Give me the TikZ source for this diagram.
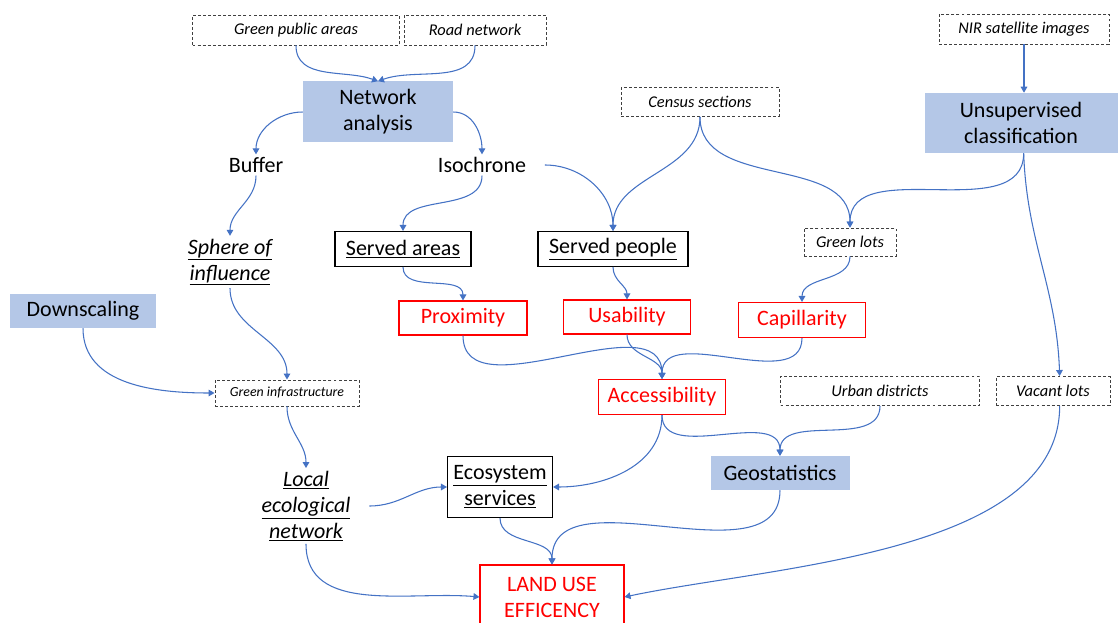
\documentclass[tikz,border=0pt]{standalone}
\usepackage{fontspec}
\setmainfont{Carlito}
\usetikzlibrary{arrows.meta}
\definecolor{linecol}{HTML}{4472C4}
\definecolor{procfill}{HTML}{B4C7E7}
\definecolor{dashcol}{HTML}{404040}
\definecolor{redcol}{HTML}{FF0000}
\tikzset{
  base/.style={inner sep=0pt, align=center, font=\fontsize{16.5}{19.5}\selectfont},
  src/.style={base, draw=dashcol, line width=0.7pt, dash pattern=on 2.2pt off 1.6pt, font=\fontsize{12.3}{14}\selectfont\itshape},
  srcsmall/.style={src, font=\fontsize{10.4}{12}\selectfont\itshape},
  proc/.style={base, fill=procfill},
  outbox/.style={base, draw=black, line width=0.8pt},
  ind/.style={base, draw=redcol, text=redcol, line width=0.8pt},
  plain/.style={base, inner sep=2pt},
  plainit/.style={plain, font=\fontsize{16.5}{19.5}\selectfont\itshape},
  conn/.style={draw=linecol, line width=0.8pt, -{Triangle[width=5pt,length=4.5pt]}},
}
\begin{document}
\begin{tikzpicture}[x=0.75pt,y=-0.75pt]
\useasboundingbox (0,0) rectangle (1118,623);
% nodes
\node[src, minimum width=207*0.75pt, minimum height=30*0.75pt] (gpa) at (296,30) {Green public areas};
\node[src, minimum width=142*0.75pt, minimum height=30*0.75pt] (road) at (475,30) {Road network};
\node[proc, minimum width=150*0.75pt, minimum height=61*0.75pt] (na) at (378,112) {Network\\analysis};
\node[plain] (buf) at (256,165) {Buffer};
\node[plain] (iso) at (482,165) {Isochrone};
\node[src, minimum width=158*0.75pt, minimum height=29*0.75pt] (cen) at (700,102) {Census sections};
\node[src, minimum width=170*0.75pt, minimum height=30*0.75pt] (nir) at (1024,29) {NIR satellite images};
\node[proc, minimum width=193*0.75pt, minimum height=60*0.75pt] (uc) at (1021,123) {Unsupervised\\classification};
\node[plainit] (sph) at (230,262) {\underline{Sphere of}\\\underline{influence}};
\node[outbox, minimum width=136*0.75pt, minimum height=35*0.75pt] (sa) at (403,249) {\underline{Served areas}};
\node[outbox, minimum width=150*0.75pt, minimum height=35*0.75pt] (sp) at (613,249) {\underline{Served people}};
\node[src, minimum width=92*0.75pt, minimum height=28*0.75pt] (gl) at (850,242) {Green lots};
\node[proc, minimum width=146*0.75pt, minimum height=34*0.75pt] (ds) at (83,311) {Downscaling};
\node[ind, minimum width=128*0.75pt, minimum height=34*0.75pt] (prox) at (463,318) {Proximity};
\node[ind, minimum width=127*0.75pt, minimum height=34*0.75pt] (usa) at (627,317) {Usability};
\node[ind, minimum width=127*0.75pt, minimum height=35*0.75pt] (cap) at (802,320) {Capillarity};
\node[srcsmall, minimum width=144*0.75pt, minimum height=26*0.75pt] (gi) at (287,393) {Green infrastructure};
\node[ind, minimum width=127*0.75pt, minimum height=35*0.75pt] (acc) at (662,397) {Accessibility};
\node[src, minimum width=199*0.75pt, minimum height=29*0.75pt] (ud) at (880,391) {Urban districts};
\node[src, minimum width=114*0.75pt, minimum height=29*0.75pt] (vl) at (1053,391) {Vacant lots};
\node[plainit] (len) at (306,506) {\underline{Local}\\\underline{ecological}\\\underline{network}};
\node[outbox, minimum width=105*0.75pt, minimum height=61*0.75pt] (es) at (500,487) {\underline{Ecosystem}\\\underline{services}};
\node[proc, minimum width=139*0.75pt, minimum height=34*0.75pt] (geo) at (780,473) {Geostatistics};
\node[ind, minimum width=144*0.75pt, minimum height=64*0.75pt] (lue) at (552,597) {LAND USE\\EFFICENCY};
% connectors
\draw[conn] (gpa.south) to[out=-90,in=160] (na.north);
\draw[conn] (road.south) to[out=-90,in=20] (na.north);
\draw[conn] (na.west) to[out=180,in=90] (buf.north);
\draw[conn] (na.east) to[out=0,in=90] (iso.north);
\draw[conn] ([xshift=12pt]iso.east) to[out=0,in=90] (sp.north);
\draw[conn] (iso.south) to[out=-90,in=90] (sa.north);
\draw[conn] (cen.south) to[out=-90,in=90] (sp.north);
\draw[conn] (cen.south) to[out=-90,in=90] (gl.north);
\draw[conn] ([xshift=2pt]uc.south) to[out=-90,in=90] (gl.north);
\draw[conn] (nir.south) -- (uc.north -| nir.south);
\draw[conn] ([xshift=2pt]uc.south) to[out=-88,in=92] ([xshift=5pt]vl.north);
\draw[conn] (buf.south) to[out=-90,in=90] (sph.north);
\draw[conn] (sph.south) to[out=-90,in=90] (gi.north);
\draw[conn] (ds.south) to[out=-90,in=180] (gi.west);
\draw[conn] (sa.south) to[out=-90,in=90] (prox.north);
\draw[conn] (sp.south) to[out=-90,in=90] (usa.north);
\draw[conn] (gl.south) to[out=-90,in=90] (cap.north);
\draw[conn] (prox.south) to[out=-90,in=90] (acc.north);
\draw[conn] (usa.south) to[out=-90,in=90] (acc.north);
\draw[conn] (cap.south) to[out=-90,in=90] (acc.north);
\draw[conn] (gi.south) to[out=-90,in=90] (len.north);
\draw[conn] (acc.south) to[out=-90,in=0] (es.east);
\draw[conn] (acc.south) to[out=-90,in=90] (geo.north);
\draw[conn] (ud.south) to[out=-90,in=90] (geo.north);
\draw[conn] ([xshift=12pt]len.east) to[out=0,in=180] (es.west);
\draw[conn] (es.south) to[out=-90,in=90] (lue.north);
\draw[conn] (geo.south) to[out=-90,in=90] (lue.north);
\draw[conn] (len.south) to[out=-90,in=175] (lue.west);
\draw[conn] ([xshift=5pt]vl.south) to[out=-90,in=12,looseness=0.8] (lue.east);
\end{tikzpicture}
\end{document}
